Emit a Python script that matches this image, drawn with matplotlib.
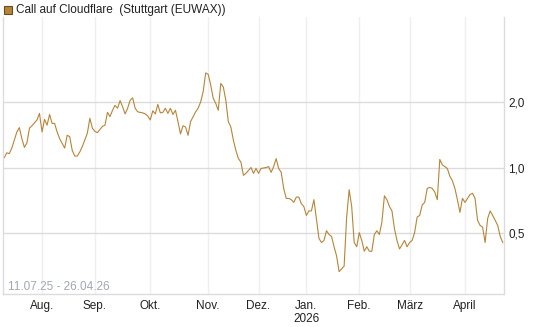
import numpy as np
import pandas as pd
import matplotlib
matplotlib.use("Agg")
from matplotlib import pyplot as plt
from matplotlib.patches import Rectangle

plt.rcParams['font.family'] = ['Liberation Sans', 'DejaVu Sans']

# trading calendar of the exchange (Stuttgart)
start = '2025-07-11'
end = '2026-04-24'
holidays = ['2025-12-24', '2025-12-25', '2025-12-26', '2025-12-31',
            '2026-01-01', '2026-04-03', '2026-04-06']

# trading day number (since 11.07.25) and price
day_no = [0, 1, 2, 3, 4, 5, 6, 7, 8, 9, 10, 11, 13, 14, 15, 16, 17, 18, 19, 20,
          21, 22, 24, 25, 26, 27, 28, 29, 30, 31, 33, 34, 35, 36, 37, 39, 40, 41, 42, 43,
          44, 45, 46, 47, 48, 49, 50, 51, 52, 53, 55, 56, 57, 58, 59, 60, 61, 62, 63, 64,
          65, 66, 67, 68, 69, 70, 71, 72, 73, 74, 76, 77, 78, 79, 80, 81, 82, 83, 84, 85,
          86, 87, 88, 89, 90, 91, 92, 93, 94, 95, 96, 97, 98, 99, 100, 101, 102, 104, 105, 106,
          107, 108, 109, 110, 111, 112, 113, 114, 115, 116, 117, 118, 119, 120, 121, 122, 123, 124, 125, 126,
          127, 128, 129, 130, 131, 132, 133, 134, 135, 136, 137, 138, 139, 140, 141, 142, 143, 144, 145, 146,
          147, 148, 149, 150, 151, 152, 153, 154, 155, 156, 157, 158, 159, 160, 161, 162, 163, 164, 165, 166,
          167, 168, 169, 170, 171, 172, 173, 174, 175, 176, 177, 178, 179, 180, 181, 182, 183, 184, 185, 186,
          187, 188, 189, 190, 191, 192, 193, 194, 195, 196, 197, 198]
price = [1.11, 1.17, 1.16, 1.23, 1.34, 1.46, 1.53, 1.36, 1.24, 1.30, 1.52, 1.56, 1.66, 1.78, 1.46, 1.67, 1.57, 1.76, 1.60, 1.60,
         1.46, 1.36, 1.23, 1.41, 1.39, 1.20, 1.13, 1.13, 1.18, 1.25, 1.44, 1.69, 1.52, 1.47, 1.45, 1.55, 1.57, 1.80, 1.72, 1.84,
         1.94, 1.88, 2.04, 1.91, 1.77, 1.88, 2.05, 2.10, 1.88, 1.81, 1.79, 1.77, 1.73, 1.66, 1.83, 1.77, 1.96, 1.79, 1.80, 1.88,
         1.78, 1.88, 1.76, 1.84, 1.63, 1.43, 1.56, 1.54, 1.41, 1.63, 1.81, 1.88, 2.01, 2.24, 2.74, 2.70, 2.41, 2.09, 1.98, 1.84,
         2.45, 2.36, 2.05, 1.63, 1.54, 1.34, 1.20, 1.10, 1.06, 0.92, 0.94, 0.97, 1.00, 0.94, 0.99, 0.94, 0.99, 1.00, 1.01, 0.95,
         1.01, 1.10, 0.99, 0.95, 0.80, 0.72, 0.72, 0.71, 0.69, 0.73, 0.73, 0.68, 0.66, 0.60, 0.63, 0.63, 0.71, 0.58, 0.47, 0.45,
         0.46, 0.51, 0.49, 0.48, 0.43, 0.39, 0.33, 0.34, 0.35, 0.59, 0.79, 0.66, 0.45, 0.43, 0.50, 0.46, 0.41, 0.43, 0.41, 0.41,
         0.49, 0.51, 0.49, 0.56, 0.74, 0.71, 0.66, 0.63, 0.52, 0.46, 0.42, 0.44, 0.46, 0.43, 0.45, 0.46, 0.50, 0.59, 0.60, 0.67,
         0.69, 0.80, 0.81, 0.80, 0.77, 0.71, 1.09, 1.03, 1.01, 0.99, 0.91, 0.87, 0.80, 0.71, 0.62, 0.72, 0.69, 0.72, 0.75, 0.76,
         0.72, 0.57, 0.54, 0.53, 0.45, 0.58, 0.63, 0.60, 0.57, 0.54, 0.48, 0.45]

months = ['2025-08-01', '2025-09-01', '2025-10-01', '2025-11-01', '2025-12-01',
          '2026-01-01', '2026-02-01', '2026-03-01', '2026-04-01']
month_labels = ['Aug.', 'Sep.', 'Okt.', 'Nov.', 'Dez.', 'Jan.\n2026', 'Feb.', 'März', 'April']
y_ticks = [0.5, 1.0, 2.0]
y_labels = ['0,5', '1,0', '2,0']

cal = pd.bdate_range(start, end, freq='C', holidays=holidays)
month_pos = cal.searchsorted(pd.to_datetime(months))

line_col = '#b5853a'
grid_col = '#dcdcdc'

fig = plt.figure(figsize=(5.45, 3.27), dpi=100)
ax = fig.add_axes([3 / 545, 1 - 294 / 327, 501 / 545, 277 / 327])

ax.plot(day_no, price, color=line_col, lw=0.8)

ax.set_yscale('log')
ax.set_ylim(0.26, 4.97)
ax.set_xlim(-0.5, len(cal) - 0.5)

ax.yaxis.set_major_locator(matplotlib.ticker.FixedLocator(y_ticks))
ax.yaxis.set_minor_locator(matplotlib.ticker.NullLocator())
ax.set_yticklabels(y_labels)
ax.yaxis.tick_right()
ax.set_xticks(month_pos)
ax.set_xticklabels(month_labels)
ax.tick_params(axis='both', length=0, labelsize=8.5, colors='#222222')
ax.tick_params(axis='y', pad=3)
ax.tick_params(axis='x', pad=4)

ax.grid(axis='y', color=grid_col, lw=1.0)
ax.grid(axis='x', color='#efefef', lw=1.0)
ax.set_axisbelow(True)

for s in ['left', 'bottom', 'right']:
    ax.spines[s].set_color(grid_col)
    ax.spines[s].set_linewidth(1.0)
ax.spines['top'].set_visible(False)

ax.text(0.01, 0.004, '11.07.25 - 26.04.26', transform=ax.transAxes,
        fontsize=8.5, color='#a0a8b8', ha='left', va='bottom')

# legend entry at the top
fig.patches.append(Rectangle((4 / 545, 1 - 14 / 327), 8 / 545, 8 / 327,
                             transform=fig.transFigure, facecolor=line_col,
                             edgecolor='#6a4a20', lw=0.8))
fig.text(16 / 545, 1 - 10 / 327, 'Call auf Cloudflare  (Stuttgart (EUWAX))',
         fontsize=8.5, color='#222222', ha='left', va='center')

fig.savefig('out.png', dpi=100)
